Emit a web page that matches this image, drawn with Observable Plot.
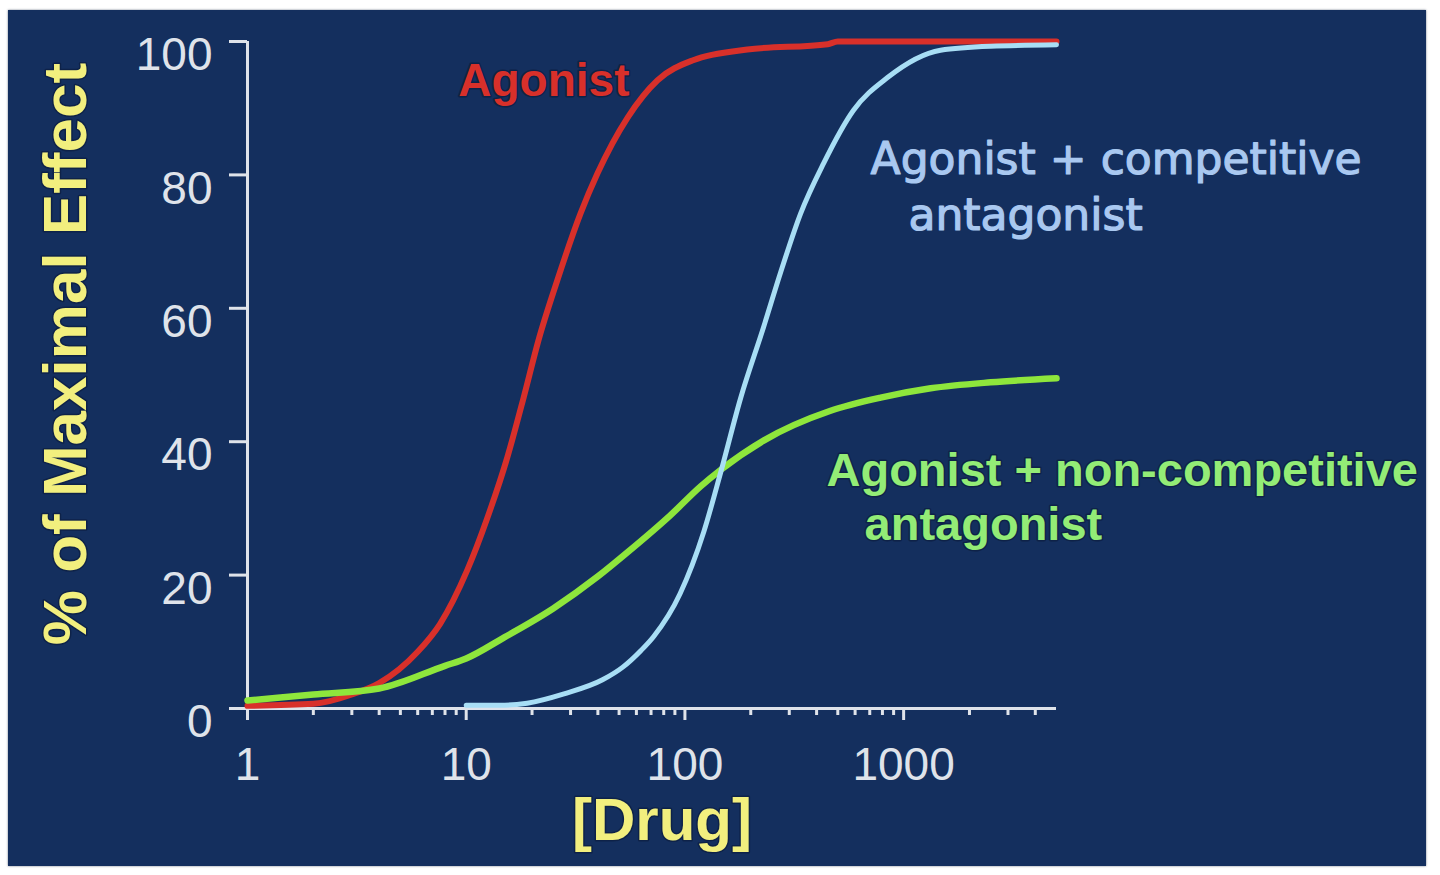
<!DOCTYPE html>
<html><head><meta charset="utf-8">
<script src="https://cdn.jsdelivr.net/npm/d3@7"></script>
<script src="https://cdn.jsdelivr.net/npm/@observablehq/plot@0.6"></script>
<style>
html,body{margin:0;padding:0;background:#fff;width:1440px;height:875px;overflow:hidden}
#panel{position:absolute;left:8px;top:10px;width:1418px;height:856px;background:#142f5e;box-shadow:0 0 2px rgba(80,90,110,.8)}
#chart{position:absolute;left:0;top:0}
</style></head><body><div id="panel"></div><div id="chart"></div>
<script>
// ---- data ----
const agonistX = [1, 2, 3, 4, 6, 7.6, 10.1, 12.5, 15.4, 18.3, 21.4, 26.1, 33.3, 39.8, 54.7, 75, 109, 193, 450, 500, 1000, 5000];
const agonistY = [0.4, 0.7, 2.1, 3.8, 8.5, 12.7, 20.7, 28.6, 37.6, 46.6, 55.2, 64.2, 74.2, 80.2, 88.6, 94.2, 97.2, 98.8, 99.6, 100, 100, 100];

const competitiveX = [10, 15, 19, 28, 42, 52, 63, 72, 95, 122, 146, 180, 229, 274, 338, 430, 590, 844, 1475, 2500, 5000];
const competitiveY = [0.5, 0.5, 0.8, 2.2, 4.3, 6.2, 8.7, 10.8, 17.2, 26.5, 35.5, 46.6, 57.2, 65.4, 74.2, 81.7, 89.7, 94.6, 98.7, 99.3, 99.5];

const nonCompetitiveX = [1, 2, 4, 8, 10, 15, 25, 40, 55, 86, 118, 146, 230, 460, 785, 1330, 2500, 5000];
const nonCompetitiveY = [1.2, 2.1, 3.0, 6.4, 7.5, 10.7, 15.0, 19.8, 23.5, 29.0, 33.3, 35.8, 40.2, 44.6, 46.6, 48, 48.9, 49.5];

const yTicks = [0, 20, 40, 60, 80, 100];
const xMajorTicks = [1, 10, 100, 1000];
const xMinorTicks = [2, 3, 4, 5, 6, 7, 8, 9, 20, 30, 40, 50, 60, 70, 80, 90, 200, 300, 400, 500, 600, 700, 800, 900, 2000, 3000, 4000];

const yTitle = ["% of Maximal Effect"];
const xTitle = ["[Drug]"];

// label anchors in data units (drug concentration, % effect)
const agonistLabel = [{text: "Agonist", x: 9.2, y: 91.9}];
const competitiveLabel = [
  {text: "Agonist + competitive", x: 706, y: 80.1},
  {text: "antagonist", x: 1052, y: 71.7}
];
const nonCompetitiveLabel = [
  {text: "Agonist + non-competitive", x: 444, y: 33.4},
  {text: "antagonist", x: 663, y: 25.2}
];

// ---- styles ----
const RED = "#d8302a", BLUE = "#a8def5", GREEN = "#8ee63c";
const BLUE_TXT = "#a9c8f0", GREEN_TXT = "#93ec76", YELLOW = "#f2ef7e";
const AXIS = "#dfe3ea";
const SANS = "'Liberation Sans', Arial, Helvetica, sans-serif";
const noLabel = () => "";

const rows = (xs, ys) => xs.map((x, i) => ({x, y: ys[i]}));

const chart = Plot.plot({
  width: 1440,
  height: 875,
  marginLeft: 247,
  marginRight: 384,
  marginTop: 41,
  marginBottom: 167,
  style: {background: "transparent", fontFamily: SANS, overflow: "visible"},
  x: {type: "log", domain: [1, 5000]},
  y: {domain: [0, 100]},
  marks: [
    // y ticks, then the (slightly lowered) y labels
    Plot.axisY(yTicks, {tickSize: 18, color: AXIS, strokeWidth: 3, label: null, tickFormat: noLabel}),
    Plot.axisY(yTicks, {tickSize: 0, tickPadding: 35, dy: 14, fontSize: 46, color: AXIS, label: null, tickFormat: d => String(d)}),
    // x ticks
    Plot.axisX(xMajorTicks, {tickSize: 12, tickPadding: 27, fontSize: 46, color: AXIS, strokeWidth: 3, label: null, tickFormat: d => String(d)}),
    Plot.axisX(xMinorTicks, {tickSize: 7, color: AXIS, strokeWidth: 3, label: null, tickFormat: noLabel}),
    Plot.ruleY([0], {stroke: AXIS, strokeWidth: 3}),
    Plot.ruleX([1], {stroke: AXIS, strokeWidth: 3}),
    Plot.line(rows(agonistX, agonistY), {x: "x", y: "y", stroke: RED, strokeWidth: 6, curve: "monotone-x"}),
    Plot.line(rows(nonCompetitiveX, nonCompetitiveY), {x: "x", y: "y", stroke: GREEN, strokeWidth: 6.5, curve: "monotone-x"}),
    Plot.line(rows(competitiveX, competitiveY), {x: "x", y: "y", stroke: BLUE, strokeWidth: 5, curve: "monotone-x"}),
    Plot.text(agonistLabel, {x: "x", y: "y", text: "text", textAnchor: "start", lineAnchor: "bottom",
      fill: RED, fontSize: 46, fontWeight: "bold", stroke: "#0e2248", strokeWidth: 3}),
    Plot.text(competitiveLabel, {x: "x", y: "y", text: "text", textAnchor: "start", lineAnchor: "bottom",
      fill: BLUE_TXT, fontSize: 44, fontFamily: "'DejaVu Sans', Verdana, sans-serif", stroke: BLUE_TXT, strokeWidth: 1.2}),
    Plot.text(nonCompetitiveLabel, {x: "x", y: "y", text: "text", textAnchor: "start", lineAnchor: "bottom",
      fill: GREEN_TXT, fontSize: 47, fontWeight: "bold", stroke: "#0e2248", strokeWidth: 3}),
    Plot.text(yTitle, {text: d => d, frameAnchor: "left", rotate: -90, dx: -162, dy: -21,
      textAnchor: "middle", lineAnchor: "bottom", fill: YELLOW, fontSize: 62, fontWeight: "bold", stroke: "#0e2248", strokeWidth: 3}),
    Plot.text(xTitle, {text: d => d, frameAnchor: "bottom", dx: 10, dy: 131,
      textAnchor: "middle", lineAnchor: "bottom", fill: YELLOW, fontSize: 60, fontWeight: "bold", stroke: "#0e2248", strokeWidth: 3})
  ]
});
document.getElementById("chart").appendChild(chart);
</script></body></html>
